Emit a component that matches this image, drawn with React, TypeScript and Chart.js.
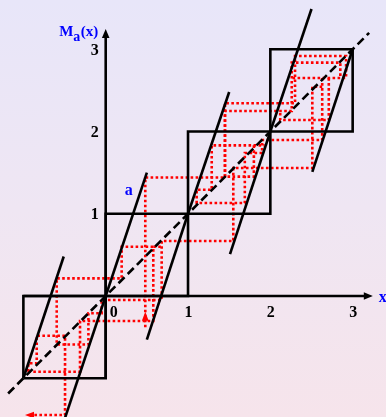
import { useEffect, useRef } from "react";
import { Chart, registerables } from "chart.js";

Chart.register(...registerables);

type P = [number, number];

// Visible window of the plot, in data units.
const X_MIN = -1.284;
const X_MAX = 3.405;
const Y_MIN = -1.471;
const Y_MAX = 3.599;

// Tick labels on the two axes.
const xTickValues = [0, 1, 2, 3];
const yTickValues = [1, 2, 3];

// Lower-left corners of the unit squares [n, n+1] x [n, n+1].
const squareCorners = [-1, 0, 1, 2];

// Both branches of M_a on every unit interval (slope about 3).
const branches: [P, P][] = [
  [[-1, -1], [-0.51, 0.48]],
  [[-0.5, -1.5], [0, 0]],
  [[0, 0], [0.5, 1.5]],
  [[0.5, -0.53], [1, 1]],
  [[1, 1], [1.5, 2.48]],
  [[1.51, 0.51], [2, 2]],
  [[2, 2], [2.5, 3.49]],
  [[2.51, 1.51], [3, 3]],
];

// The diagonal y = x.
const diagonal: P[] = [[-1.185, -1.185], [3.2, 3.2]];

// Axis extent (arrow tips) and the label value a = M_a(1/2).
const axisFrom = -1;
const axisTip = 3.245;
const aValue = 1.5;

// Cobweb of the orbit, as polylines of (x, M_a(x)) and diagonal points.
const orbitStart: P[] = [
  [0.481, -0.38], [0.481, 1.44], [1.449, 1.44], [1.449, 2.343], [2.3, 2.343],
  [2.3, 2.918], [2.92, 2.918], [2.92, 2.65], [2.26, 2.65],
];
const orbitUpperLoop: P[] = [
  [2.63, 2.65], [2.63, 1.897], [1.9, 1.897], [1.9, 1.739], [1.69, 1.739],
  [1.69, 1.131], [1.105, 1.131], [1.105, 1.292], [1.288, 1.292], [1.288, 1.832],
  [1.93, 1.832],
];
const orbitReturn: P[] = [
  [1.8, 1.832], [1.8, 1.452], [1.449, 1.452], [1.449, 2.25], [2.26, 2.25],
  [2.26, 2.837], [2.85, 2.837], [2.85, 2.65],
];
const orbitTopCorner: P[] = [
  [2.71, 2.65], [2.71, 2.14], [2.12, 2.14], [2.12, 2.25],
];
const orbitDescent: P[] = [
  [2.63, 2.545], [2.51, 2.545], [2.51, 1.556], [1.55, 1.556], [1.55, 0.669],
  [0.68, 0.669], [0.68, -0.049], [-0.049, -0.049], [-0.049, -0.21], [-0.21, -0.21],
  [-0.21, -0.59], [-0.595, -0.59], [-0.595, 0.215], [0.194, 0.215], [0.194, 0.599],
  [0.578, 0.599], [0.578, -0.304], [-0.312, -0.304], [-0.312, -0.92], [-0.96, -0.92],
];
const orbitEnd: P[] = [
  [-0.94, -0.92], [-0.94, -0.818], [-0.838, -0.818], [-0.838, -0.483],
  [-0.494, -0.483], [-0.494, -1.447], [-0.9, -1.447],
];
const orbitOvershoot: P[] = [[0.578, 0.599], [0.68, 0.599]];

const cobweb: P[][] = [
  orbitStart, orbitUpperLoop, orbitReturn, orbitTopCorner, orbitDescent, orbitEnd, orbitOvershoot,
];

// Direction markers on the orbit: tip point and pointing direction.
const orbitArrows: { tip: P; dir: P }[] = [
  { tip: [0.481, -0.19], dir: [0, 1] },
  { tip: [-0.98, -1.447], dir: [-1, 0] },
];

const BLACK = "#000000";
const RED = "#ff0000";
const BLUE = "#0000ff";
const SERIF = '"Liberation Serif", "Times New Roman", serif';

function lineSet(pts: P[], color: string, width: number, dash: number[], order: number) {
  return {
    data: pts.map(([x, y]) => ({ x, y })),
    showLine: true,
    borderColor: color,
    backgroundColor: color,
    borderWidth: width,
    borderDash: dash,
    borderCapStyle: "butt" as const,
    borderJoinStyle: "miter" as const,
    pointRadius: 0,
    pointHoverRadius: 0,
    fill: false,
    tension: 0,
    order,
  };
}

function triangle(ctx: CanvasRenderingContext2D, tx: number, ty: number, dx: number, dy: number, len: number, half: number, color: string) {
  const bx = tx - dx * len;
  const by = ty - dy * len;
  const nx = -dy;
  const ny = dx;
  ctx.beginPath();
  ctx.moveTo(tx, ty);
  ctx.lineTo(bx + nx * half, by + ny * half);
  ctx.lineTo(bx - nx * half, by - ny * half);
  ctx.closePath();
  ctx.fillStyle = color;
  ctx.fill();
}

const overlay = {
  id: "overlay",
  afterDatasetsDraw(chart: any) {
    const ctx: CanvasRenderingContext2D = chart.ctx;
    const sx = chart.scales.x;
    const sy = chart.scales.y;
    const px = (v: number) => sx.getPixelForValue(v);
    const py = (v: number) => sy.getPixelForValue(v);
    ctx.save();

    // axis arrowheads
    triangle(ctx, px(axisTip), py(0), 1, 0, 9, 3.8, BLACK);
    triangle(ctx, px(0), py(axisTip), 0, -1, 9, 3.8, BLACK);

    // orbit direction arrows
    for (const a of orbitArrows) {
      triangle(ctx, px(a.tip[0]), py(a.tip[1]), a.dir[0], -a.dir[1], 9, 3.4, RED);
    }

    // tick labels
    ctx.fillStyle = BLACK;
    ctx.font = `bold 16px ${SERIF}`;
    ctx.textBaseline = "middle";
    ctx.textAlign = "right";
    for (const v of yTickValues) ctx.fillText(String(v), px(0) - 7, py(v) + 1.5);
    ctx.textAlign = "center";
    for (const v of xTickValues) ctx.fillText(String(v), px(v) + (v === 0 ? 8 : 0.5), py(0) + 17);

    // axis names
    ctx.fillStyle = BLUE;
    ctx.textAlign = "left";
    ctx.textBaseline = "alphabetic";
    ctx.font = `bold 16px ${SERIF}`;
    ctx.fillText("x", px(axisTip) + 6, py(0) + 6);

    let lx = px(0) - 46.5;
    const ly = py(axisTip) + 7;
    ctx.font = `bold 15px ${SERIF}`;
    ctx.fillText("M", lx, ly);
    lx += ctx.measureText("M").width;
    ctx.font = `bold 14px ${SERIF}`;
    ctx.fillText("a", lx, ly + 4.5);
    lx += ctx.measureText("a").width + 0.5;
    ctx.font = `bold 15px ${SERIF}`;
    ctx.fillText("(x)", lx, ly);

    // value a = M_a(1/2)
    ctx.font = `bold 16px ${SERIF}`;
    ctx.fillText("a", px(0.5) - 22, py(aValue) + 22);

    ctx.restore();
  },
};

export default function App() {
  const ref = useRef<HTMLCanvasElement>(null);

  useEffect(() => {
    document.body.style.margin = "0";
    const canvas = ref.current;
    if (!canvas) return;

    const datasets: any[] = [];
    for (const n of squareCorners) {
      const sq: P[] = [[n, n], [n + 1, n], [n + 1, n + 1], [n, n + 1], [n, n]];
      datasets.push(lineSet(sq, BLACK, 2.6, [], 0));
    }
    for (const b of branches) datasets.push(lineSet(b, BLACK, 2.6, [], 0));
    datasets.push(lineSet([[axisFrom, 0], [axisTip - 0.08, 0]], BLACK, 2.6, [], 0));
    datasets.push(lineSet([[0, axisFrom], [0, axisTip - 0.08]], BLACK, 2.6, [], 0));
    datasets.push(lineSet(diagonal, BLACK, 2.6, [8.5, 4.5], 1));
    for (const path of cobweb) datasets.push(lineSet(path, RED, 2.6, [2.6, 2.4], 2));

    const chart = new Chart(canvas, {
      type: "scatter",
      data: { datasets },
      options: {
        animation: false,
        responsive: false,
        maintainAspectRatio: false,
        devicePixelRatio: 1,
        layout: { padding: 0 },
        events: [],
        plugins: { legend: { display: false }, tooltip: { enabled: false }, title: { display: false } },
        scales: {
          x: { type: "linear", min: X_MIN, max: X_MAX, display: false },
          y: { type: "linear", min: Y_MIN, max: Y_MAX, display: false },
        },
      },
      plugins: [overlay],
    });
    return () => chart.destroy();
  }, []);

  return (
    <div
      style={{
        width: 386,
        height: 417,
        background: "linear-gradient(to bottom, #e8e6f9 0%, #efe6f3 50%, #f6e4eb 100%)",
      }}
    >
      <canvas ref={ref} width={386} height={417} style={{ display: "block", width: 386, height: 417 }} />
    </div>
  );
}
